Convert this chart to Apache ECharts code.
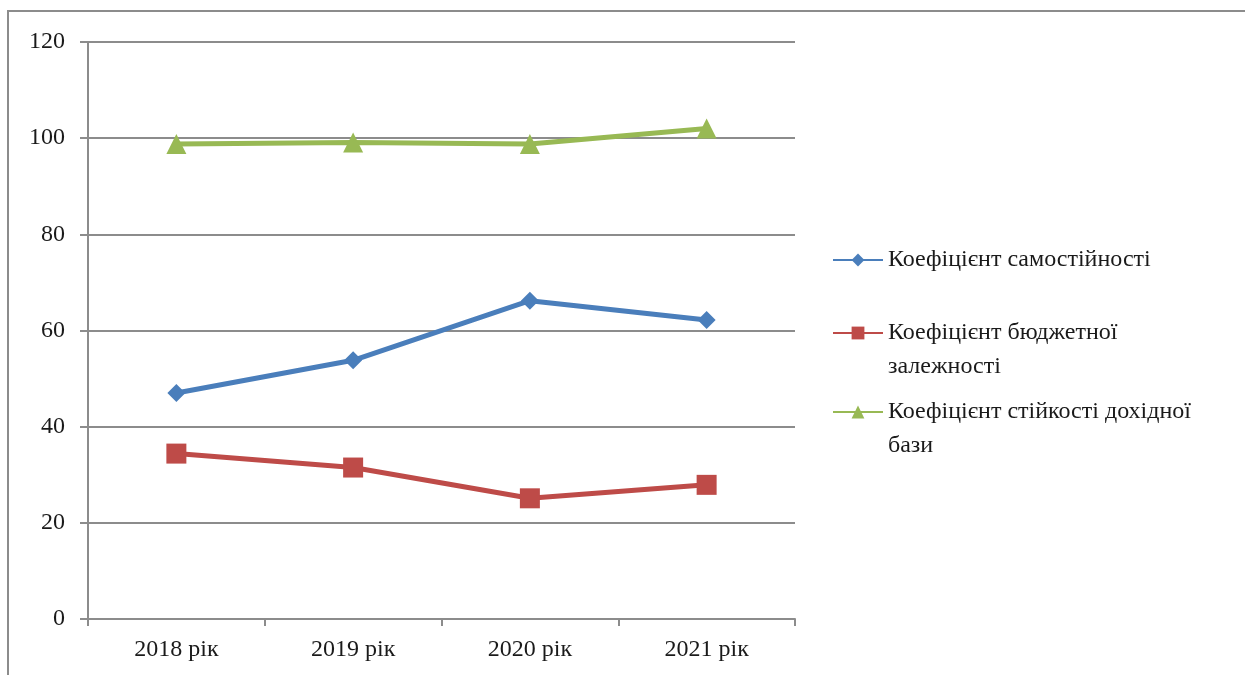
<!DOCTYPE html>
<html>
<head>
<meta charset="utf-8">
<script src="https://cdn.jsdelivr.net/npm/echarts@6/dist/echarts.min.js"></script>
<style>
  html, body { margin: 0; padding: 0; background: #fff; }
  #frame { position: absolute; left: 7px; top: 10px; width: 1300px; height: 700px;
           border-top: 2px solid #8c8c8c; border-left: 2px solid #8c8c8c; }
  #chart { position: absolute; left: 0; top: 0; width: 1245px; height: 675px; }
</style>
</head>
<body>
<div id="frame"></div>
<div id="chart"></div>
<script>
const years = ['2018 рік', '2019 рік', '2020 рік', '2021 рік'];
const seriesNames = [
  'Коефіцієнт самостійності',
  'Коефіцієнт бюджетної залежності',
  'Коефіцієнт стійкості дохідної бази'
];
const autonomy = [47.0, 53.8, 66.2, 62.2];
const dependence = [34.4, 31.5, 25.1, 27.9];
const stability = [98.8, 99.1, 98.8, 102.0];
const yTicks = [0, 20, 40, 60, 80, 100, 120];

const colors = ['#4a7ebb', '#be4b48', '#98b954'];
const symbols = ['diamond', 'rect', 'triangle'];
const symbolSizes = [18, 20, 20];
const seriesData = [autonomy, dependence, stability];
// legend captions wrap after the first line; an empty leading line keeps
// the marker level with the first line of a two-line caption
const legendLines = [
  ['Коефіцієнт самостійності'],
  ['Коефіцієнт бюджетної', 'залежності'],
  ['Коефіцієнт стійкості дохідної', 'бази']
];
const legendTops = [243, 282, 361];

const font = '"Liberation Serif", "Times New Roman", serif';

const chart = echarts.init(document.getElementById('chart'));
chart.setOption({
  animation: false,
  textStyle: { fontFamily: font },
  grid: { left: 88, right: 450, top: 42, bottom: 56 },
  legend: seriesNames.map((name, i) => ({
    data: [name],
    orient: 'vertical',
    left: 832,
    top: legendTops[i],
    itemWidth: 50,
    itemHeight: 16,
    padding: 0,
    selectedMode: false,
    formatter: () => (legendLines[i].length > 1 ? '\n' : '') + legendLines[i].join('\n'),
    textStyle: { fontFamily: font, fontSize: 24, color: '#1a1a1a', lineHeight: 34 }
  })),
  xAxis: {
    type: 'category',
    data: years,
    boundaryGap: true,
    axisLine: { lineStyle: { color: '#8c8c8c', width: 2 } },
    axisTick: { show: true, length: 7, lineStyle: { color: '#8c8c8c', width: 2 } },
    axisLabel: { fontFamily: font, fontSize: 24, color: '#1a1a1a', margin: 19 }
  },
  yAxis: {
    type: 'value',
    min: yTicks[0],
    max: yTicks[yTicks.length - 1],
    interval: yTicks[1] - yTicks[0],
    axisLine: { show: true, lineStyle: { color: '#8c8c8c', width: 2 } },
    axisTick: { show: true, length: 8, lineStyle: { color: '#8c8c8c', width: 2 } },
    splitLine: { lineStyle: { color: '#8c8c8c', width: 2 } },
    axisLabel: { fontFamily: font, fontSize: 24, color: '#1a1a1a', margin: 23 }
  },
  series: seriesNames.map((name, i) => ({
    name: name,
    type: 'line',
    data: seriesData[i],
    symbol: symbols[i],
    symbolSize: symbolSizes[i],
    showSymbol: true,
    lineStyle: { color: colors[i], width: 5 },
    itemStyle: { color: colors[i] }
  }))
});
</script>
</body>
</html>
